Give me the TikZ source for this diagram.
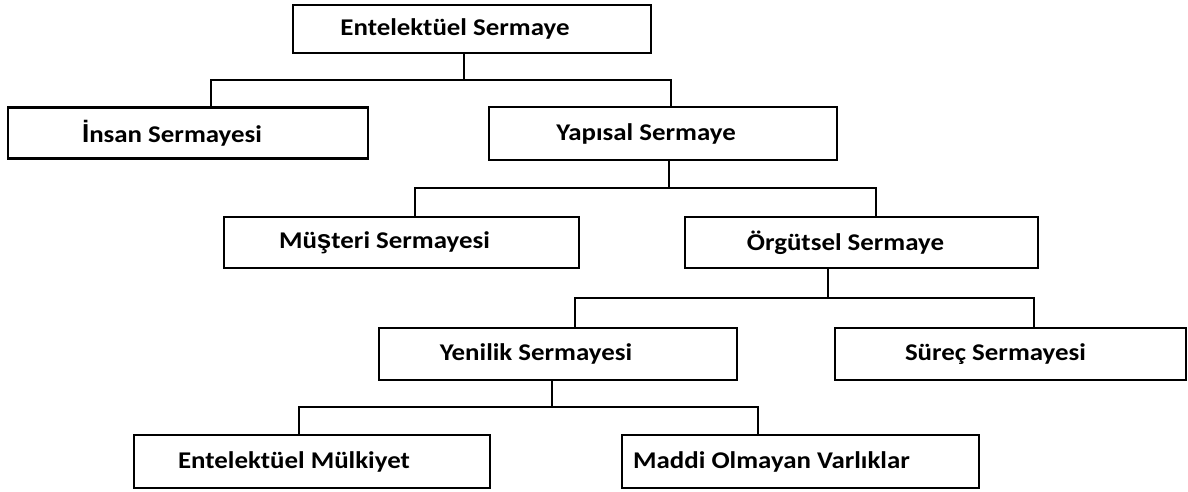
\documentclass[tikz,border=0pt]{standalone}
\usepackage{fontspec}
\setmainfont{Carlito}[FakeStretch=1.12]
\newfontfamily\altfont{Liberation Sans}
\begin{document}
\begin{tikzpicture}[x=1pt,y=-1pt,
  box/.style={draw, line width=2.6pt, minimum height=51pt, inner sep=0pt,
    font=\fontsize{24}{26}\selectfont\bfseries},
  conn/.style={line width=2.4pt}]
\useasboundingbox (0,0) rectangle (1188,492);
% boxes
\node[box, minimum width=358pt, minimum height=48pt] (es) at (472,29) {Entelektüel Sermaye\hspace*{34pt}};
\node[box, minimum width=360pt] (ins) at (188,133) {{\altfont\bfseries\fontsize{26}{26}\selectfont İ}nsan Sermayesi\hspace*{32pt}};
\node[box, minimum width=348pt, minimum height=53pt] (yap) at (663,133.5) {Yapısal Sermaye\hspace*{34pt}};
\node[box, minimum width=355pt] (mus) at (401.5,242.5) {Mü{\altfont\bfseries\fontsize{26}{26}\selectfont ş}teri Sermayesi\hspace*{34pt}};
\node[box, minimum width=353pt] (org) at (861.5,242.5) {Örgütsel Sermaye\hspace*{32pt}};
\node[box, minimum width=358pt, minimum height=52pt] (yen) at (558,354) {Yenilik Sermayesi\hspace*{44pt}};
\node[box, minimum width=351pt, minimum height=52pt] (sur) at (1010.5,354) {Süreç Sermayesi\hspace*{30pt}};
\node[box, minimum width=356pt, minimum height=53pt] (em) at (312,461.5) {Entelektüel Mülkiyet\hspace*{36pt}};
\node[box, minimum width=357pt, minimum height=53pt] (mov) at (800.5,461.5) {Maddi Olmayan Varlıklar\hspace*{58pt}};
% junctions
\coordinate (j1) at (464,80);
\coordinate (j1l) at (211,80);
\coordinate (j1r) at (671,80);
\coordinate (j2) at (669,188);
\coordinate (j2l) at (415,188);
\coordinate (j2r) at (876,188);
\coordinate (j3) at (828,298);
\coordinate (j3l) at (575,298);
\coordinate (j3r) at (1034,298);
\coordinate (j4) at (552,407);
\coordinate (j4l) at (299,407);
\coordinate (j4r) at (758,407);
% connectors
\draw[conn] (es.south -| j1) -- (j1);
\draw[conn] (ins.north -| j1l) -- (j1l) -- (j1r) -- (yap.north -| j1r);
\draw[conn] (yap.south -| j2) -- (j2);
\draw[conn] (mus.north -| j2l) -- (j2l) -- (j2r) -- (org.north -| j2r);
\draw[conn] (org.south -| j3) -- (j3);
\draw[conn] (yen.north -| j3l) -- (j3l) -- (j3r) -- (sur.north -| j3r);
\draw[conn] (yen.south -| j4) -- (j4);
\draw[conn] (em.north -| j4l) -- (j4l) -- (j4r) -- (mov.north -| j4r);
\end{tikzpicture}
\end{document}
